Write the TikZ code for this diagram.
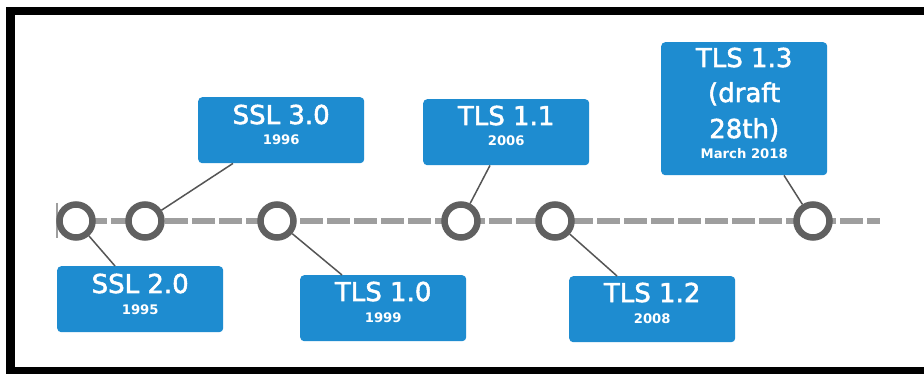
\documentclass[tikz,border=0pt]{standalone}
\usepackage{fontspec}
\setmainfont{DejaVu Sans}
\newfontfamily\headfont[FakeBold=2]{DejaVu Sans}
\definecolor{boxblue}{RGB}{30,140,208}
\definecolor{ringgray}{RGB}{96,96,96}
\definecolor{axisgray}{RGB}{158,158,158}
\definecolor{linkgray}{RGB}{85,85,85}
\tikzset{
  verbox/.style={rectangle, rounded corners=4pt, fill=boxblue, inner sep=0pt,
    minimum width=166pt, minimum height=66pt, anchor=north west},
  tallbox/.style={verbox, minimum height=133pt},
  ttl/.style={text=white, font=\headfont\fontsize{26}{30}\selectfont, inner sep=0pt, anchor=base},
  yr/.style={text=white, font=\fontsize{13.2}{15}\selectfont\bfseries, inner sep=0pt, anchor=base},
  milestone/.style={circle, draw=ringgray, line width=6.5pt, fill=white,
    minimum size=33pt, inner sep=0pt},
  link/.style={draw=linkgray, line width=1.5pt},
  axis/.style={draw=axisgray, line width=6.5pt, dash pattern=on 23pt off 4pt}
}
\begin{document}
\begin{tikzpicture}[x=1pt, y=-1pt]
  \useasboundingbox (0,0) rectangle (924,374);
  \fill[white] (0,0) rectangle (924,374);
  % frame
  \fill[black] (6,7) rectangle (924,15);
  \fill[black] (6,7) rectangle (15,374);
  \fill[black] (6,367) rectangle (924,374);

  % time axis
  \coordinate (axstart) at (57,221);
  \coordinate (axend) at (880,221);
  \draw[axis] (axstart) -- (axend);
  \draw[draw=axisgray, line width=2pt] (57,203) -- (57,238);

  % milestones on the axis
  \node[milestone] (c1) at (76,221) {};
  \node[milestone] (c2) at (145,221) {};
  \node[milestone] (c3) at (277,221) {};
  \node[milestone] (c4) at (461,221) {};
  \node[milestone] (c5) at (555,221) {};
  \node[milestone] (c6) at (813,221) {};

  % version boxes
  \node[verbox] (b1) at (57,266) {};
  \node[ttl] (t1) at ([yshift=-27pt]b1.north) {SSL 2.0};
  \node[yr]  (y1) at ([yshift=-48pt]b1.north) {1995};

  \node[verbox] (b2) at (198,97) {};
  \node[ttl] (t2) at ([yshift=-27pt]b2.north) {SSL 3.0};
  \node[yr]  (y2) at ([yshift=-48pt]b2.north) {1996};

  \node[verbox] (b3) at (300,275) {};
  \node[ttl] (t3) at ([yshift=-26pt]b3.north) {TLS 1.0};
  \node[yr]  (y3) at ([yshift=-47pt]b3.north) {1999};

  \node[verbox] (b4) at (423,99) {};
  \node[ttl] (t4) at ([yshift=-26pt]b4.north) {TLS 1.1};
  \node[yr]  (y4) at ([yshift=-47pt]b4.north) {2006};

  \node[verbox] (b5) at (569,276) {};
  \node[ttl] (t5) at ([yshift=-26pt]b5.north) {TLS 1.2};
  \node[yr]  (y5) at ([yshift=-47pt]b5.north) {2008};

  \node[tallbox] (b6) at (661,42) {};
  \node[ttl] (t6a) at ([yshift=-25pt]b6.north) {TLS 1.3};
  \node[ttl] (t6b) at ([yshift=-60pt]b6.north) {(draft};
  \node[ttl] (t6c) at ([yshift=-96pt]b6.north) {28th)};
  \node[yr]  (y6) at ([yshift=-117pt]b6.north) {March 2018};

  % leader lines from milestones to boxes
  \draw[link] (c1) -- ([xshift=58pt]b1.north west);
  \draw[link] (c2) -- ([xshift=35pt]b2.south west);
  \draw[link] (c3) -- ([xshift=42pt]b3.north west);
  \draw[link] (c4) -- ([xshift=67pt]b4.south west);
  \draw[link] (c5) -- ([xshift=48pt]b5.north west);
  \draw[link] (c6) -- ([xshift=123pt]b6.south west);
\end{tikzpicture}
\end{document}
